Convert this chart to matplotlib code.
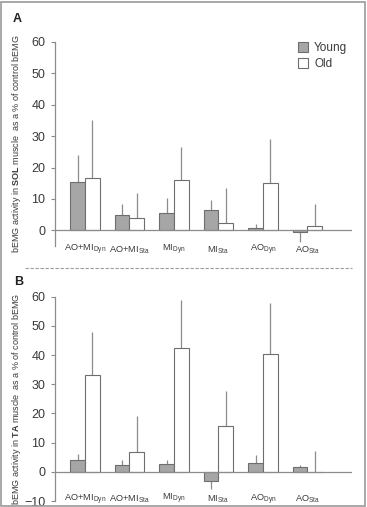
import numpy as np
import matplotlib
matplotlib.use('Agg')
import matplotlib.pyplot as plt
from matplotlib.patches import Rectangle

plt.rcParams['font.family'] = 'Liberation Sans'
plt.rcParams['mathtext.fontset'] = 'custom'
plt.rcParams['mathtext.rm'] = 'Liberation Sans'
plt.rcParams['mathtext.bf'] = 'Liberation Sans:bold'

categories = [r'AO+MI$_{\rm Dyn}$', r'AO+MI$_{\rm Sta}$', r'MI$_{\rm Dyn}$',
              r'MI$_{\rm Sta}$', r'AO$_{\rm Dyn}$', r'AO$_{\rm Sta}$']

# panel A - SOL
sol_young = [15.5, 5.0, 5.5, 6.5, 0.7, -0.7]
sol_young_err = [8.5, 3.3, 4.7, 3.2, 1.2, 3.1]
sol_old = [16.8, 3.8, 15.9, 2.2, 15.2, 1.3]
sol_old_err = [18.2, 8.0, 10.6, 11.4, 13.8, 7.0]

# panel B - TA
ta_young = [4.0, 2.5, 2.7, -3.2, 3.0, 1.6]
ta_young_err = [2.1, 1.7, 1.3, 2.8, 2.6, 0.7]
ta_old = [33.3, 6.8, 42.4, 15.6, 40.2, 0.1]
ta_old_err = [14.5, 12.3, 16.6, 12.2, 17.7, 7.0]

young_col = '#a6a6a6'
edge_col = '#6e6e6e'
line_col = '#8c8c8c'
text_col = '#3a3a3a'

fig = plt.figure(figsize=(3.67, 5.07), dpi=100)
fig.patches.append(Rectangle((0.004, 0.002), 0.99, 0.994, transform=fig.transFigure,
                             fill=False, edgecolor='#9a9a9a', linewidth=1.2))


def one_sided(vals, errs):
    vals = np.array(vals)
    errs = np.array(errs)
    lower = np.where(vals < 0, errs, 0)
    upper = np.where(vals >= 0, errs, 0)
    return [lower, upper]


def panel(rect, young, yerr, old, oerr, ymin, muscle, label_y, legend=False):
    ax = fig.add_axes(rect)
    x = np.arange(len(categories))
    w = 0.33
    ax.errorbar(x - w / 2, young, yerr=one_sided(young, yerr), fmt='none',
                ecolor=line_col, elinewidth=0.9, capsize=0, zorder=1)
    ax.errorbar(x + w / 2, old, yerr=one_sided(old, oerr), fmt='none',
                ecolor=line_col, elinewidth=0.9, capsize=0, zorder=1)
    ax.bar(x - w / 2, young, w, color=young_col, edgecolor=edge_col, linewidth=0.8,
           label='Young', zorder=2)
    ax.bar(x + w / 2, old, w, color='white', edgecolor=edge_col, linewidth=0.8,
           label='Old', zorder=2)
    ax.axhline(0, color=line_col, linewidth=0.9, zorder=3)
    ax.set_xlim(-0.67, 6.0)
    ax.set_ylim(ymin, 60)
    for s in ['top', 'right', 'bottom']:
        ax.spines[s].set_visible(False)
    ax.spines['left'].set_color(line_col)
    ax.spines['left'].set_linewidth(0.9)
    ax.set_xticks([])
    ax.set_yticks(np.arange(-10 if ymin <= -10 else 0, 61, 10))
    ax.tick_params(axis='y', length=3, width=0.8, color=line_col, labelsize=9,
                   labelcolor=text_col, pad=4)
    for i, c in enumerate(categories):
        ax.text(x[i], label_y, c, ha='center', va='center', fontsize=6.7, color=text_col)
    ax.set_ylabel('bEMG activity in $\\bf{' + muscle + '}$ muscle  as a % of control bEMG',
                  fontsize=6.5, color=text_col)
    ax.yaxis.set_label_coords(-0.108, 0.5)
    if legend:
        ax.legend(loc='upper right', bbox_to_anchor=(1.02, 1.05), frameon=False,
                  fontsize=8.5, handlelength=0.9, handleheight=0.9, handletextpad=0.5,
                  labelspacing=0.3, labelcolor=text_col)
    return ax


panel([0.150, 0.5148, 0.809, 0.4024], sol_young, sol_young_err, sol_old, sol_old_err,
      -5, 'SOL', -6.2, legend=True)
panel([0.150, 0.0118, 0.809, 0.4030], ta_young, ta_young_err, ta_old, ta_old_err,
      -10, 'TA', -9.3)

fig.text(0.035, 0.962, 'A', fontsize=9, fontweight='bold', va='center', color='#222222')
fig.text(0.038, 0.444, 'B', fontsize=9, fontweight='bold', va='center', color='#222222')
fig.add_artist(plt.Line2D([0.068, 0.959], [0.471, 0.471], transform=fig.transFigure,
                          color='#9a9a9a', linestyle=(0, (3, 1.5)), linewidth=0.8))

plt.savefig('out.png', dpi=100)
plt.close()
